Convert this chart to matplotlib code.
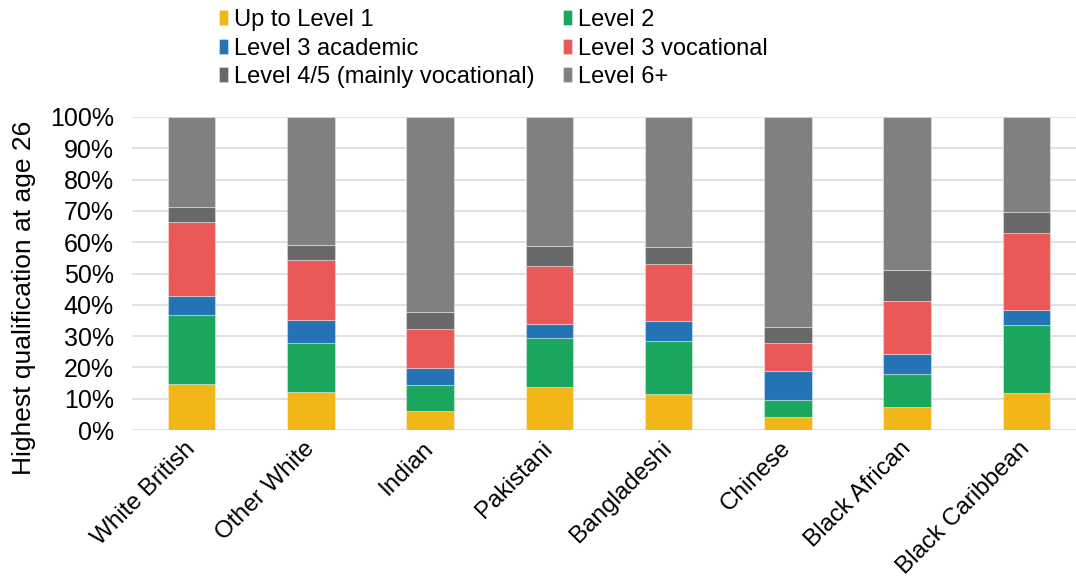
import numpy as np
import matplotlib
matplotlib.use("Agg")
import matplotlib.pyplot as plt

# Data (percent of each group)
groups = ["White British", "Other White", "Indian", "Pakistani",
          "Bangladeshi", "Chinese", "Black African", "Black Caribbean"]
up_to_level1 = [14.7, 12.1, 6.0, 13.8, 11.6, 4.1, 7.3, 11.9]
level2 = [22.2, 15.8, 8.4, 15.5, 16.7, 5.6, 10.6, 21.8]
level3_academic = [6.0, 7.4, 5.3, 4.7, 6.5, 9.2, 6.4, 4.7]
level3_vocational = [23.4, 18.9, 12.7, 18.4, 18.1, 9.0, 17.0, 24.4]
level45 = [5.0, 5.0, 5.3, 6.3, 5.6, 5.1, 9.7, 7.0]
level6 = [28.7, 40.8, 62.3, 41.3, 41.5, 67.0, 49.0, 30.2]

series = [
    ("Up to Level 1", up_to_level1, "#F2B619"),
    ("Level 2", level2, "#1BA65E"),
    ("Level 3 academic", level3_academic, "#2474B5"),
    ("Level 3 vocational", level3_vocational, "#EA5858"),
    ("Level 4/5 (mainly vocational)", level45, "#686868"),
    ("Level 6+", level6, "#808080"),
]

W, H = 1076, 579
fig = plt.figure(figsize=(W / 100, H / 100), dpi=100)
ax = fig.add_axes([132 / W, 1 - 430 / H, (1086 - 132) / W, (430 - 117) / H])

x = np.arange(len(groups))
bottom = np.zeros(len(groups))
handles = []
for name, vals, col in series:
    b = ax.bar(x, vals, width=0.4, bottom=bottom, color=col,
               edgecolor=(1, 1, 1, 0.35), linewidth=0.8, zorder=3, label=name)
    handles.append(b)
    bottom += np.array(vals)

ax.set_xlim(-0.5, len(groups) - 0.5)
ax.set_ylim(0, 100)
ax.set_yticks(np.arange(0, 101, 10))
ax.set_yticklabels([f"{v}%" for v in range(0, 101, 10)])
ax.grid(axis="y", color="#dcdcdc", linewidth=1.2, zorder=0)
for s in ax.spines.values():
    s.set_visible(False)
ax.tick_params(axis="y", length=0, pad=13, labelsize=18)
ax.tick_params(axis="x", length=0, pad=11)
ax.set_xticks(x)
ax.set_xticklabels(groups, rotation=45, ha="right", va="center",
                   rotation_mode="anchor", fontsize=17.5)
for lab in ax.get_xticklabels() + ax.get_yticklabels():
    lab.set_family("Liberation Sans")

fig.text(24 / W, 1 - 298 / H, "Highest qualification at age 26", rotation=90,
         ha="center", va="center", fontsize=19, family="Liberation Sans")

# legend: two columns placed separately
leg_kw = dict(loc="upper left", frameon=False, handlelength=0.4,
              handleheight=0.6, handletextpad=0.25, labelspacing=0.28,
              borderpad=0, borderaxespad=0,
              prop={"family": "Liberation Sans", "size": 17})
left_idx = [0, 2, 4]
right_idx = [1, 3, 5]
leg1 = fig.legend([handles[i] for i in left_idx], [series[i][0] for i in left_idx],
                  bbox_to_anchor=(219 / W, 1 - 9 / H), **leg_kw)
leg2 = fig.legend([handles[i] for i in right_idx], [series[i][0] for i in right_idx],
                  bbox_to_anchor=(563 / W, 1 - 9 / H), **leg_kw)

fig.savefig("out.png", dpi=100, facecolor="white")
